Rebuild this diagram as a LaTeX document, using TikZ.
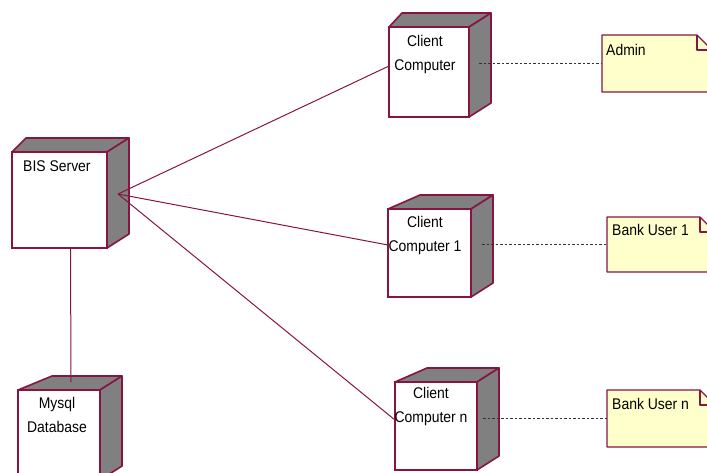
\documentclass[tikz,border=0pt]{standalone}
\usepackage{fontspec}
\setmainfont{Liberation Sans}[FakeStretch=0.9]
\usetikzlibrary{calc}

\definecolor{edge}{RGB}{135,20,65}
\definecolor{shade}{RGB}{128,128,128}
\definecolor{notefill}{RGB}{255,255,204}

\tikzset{
  box/.style={draw=edge, line width=1.6pt, fill=white, inner sep=0pt, outer sep=0pt},
  face/.style={fill=shade, draw=edge, line width=1.6pt, line join=round},
  boxtext/.style={font=\fontsize{15.5}{24}\selectfont, inner sep=0pt, align=center, anchor=base},
  notetext/.style={font=\fontsize{15.5}{17}\selectfont, inner sep=0pt, anchor=base west},
  link/.style={draw=edge, line width=1pt},
  trace/.style={draw=black!80, line width=1pt, dash pattern=on 2.5pt off 2pt},
  notebox/.style={inner sep=0pt, outer sep=0pt},
  notepaper/.style={draw=edge, fill=notefill, line width=1.2pt, line join=round},
}

% top and side faces of a deployment node; #2 = offset of the top face's back-left corner
\newcommand\devicefaces[2]{%
  \draw[face] (#1.north west) -- ([shift={(#2,-14)}]#1.north west)
    -- ([shift={(22,-14)}]#1.north east) -- (#1.north east) -- cycle;
  \draw[face] (#1.north east) -- ([shift={(22,-14)}]#1.north east)
    -- ([shift={(22,-14)}]#1.south east) -- (#1.south east) -- cycle;
}

% note sheet with a folded corner
\newcommand\notepaper[1]{%
  \draw[notepaper] (#1.south west) -- (#1.north west) -- ([shift={(-15,0)}]#1.north east)
    -- ([shift={(0,15)}]#1.north east) -- (#1.south east) -- cycle;
  \draw[notepaper, fill=none] ([shift={(-15,0)}]#1.north east)
    -- ([shift={(-15,15)}]#1.north east) -- ([shift={(0,15)}]#1.north east);
}

\begin{document}
\begin{tikzpicture}[x=1pt, y=-1pt]
\useasboundingbox (0,0) rectangle (707,472);
\begin{scope}
\clip (0,0) rectangle (707,472);

% deployment nodes
\node[box, minimum width=95pt, minimum height=96pt] (bis) at (59.5,200) {};
\devicefaces{bis}{14}
\node[box, minimum width=80pt, minimum height=90pt] (cc) at (429,72) {};
\devicefaces{cc}{13}
\node[box, minimum width=83pt, minimum height=88pt] (cc1) at (429.5,253) {};
\devicefaces{cc1}{32}
\node[box, minimum width=82pt, minimum height=88pt] (ccn) at (436,426) {};
\devicefaces{ccn}{32}
\node[box, minimum width=82pt, minimum height=90pt] (db) at (59,435) {};
\devicefaces{db}{34}

% node captions (base anchor sits on the last line)
\node[boxtext, anchor=base west] (bis-t) at (23,171) {BIS Server};
\node[boxtext] (cc-t) at (425,70) {Client\\Computer};
\node[boxtext] (cc1-t) at (425,251) {Client\\Computer 1};
\node[boxtext] (ccn-t) at (431,422) {Client\\Computer n};
\node[boxtext] (db-t) at (57,432) {Mysql\\Database};

% notes
\node[notebox, minimum width=110pt, minimum height=57pt] (admin) at (657,63.5) {};
\notepaper{admin}
\node[notetext] (admin-t) at (606,55) {Admin};
\node[notebox, minimum width=108pt, minimum height=55pt] (bu1) at (661,244.5) {};
\notepaper{bu1}
\node[notetext] (bu1-t) at (612,235) {Bank User 1};
\node[notebox, minimum width=108pt, minimum height=57pt] (bun) at (661,418.5) {};
\notepaper{bun}
\node[notetext] (bun-t) at (612,409) {Bank User n};

% communication paths
\coordinate (hub) at ([shift={(11,-6)}]bis.east);
\coordinate (cc-in) at ([shift={(0,-6)}]cc.west);
\coordinate (cc1-in) at ([shift={(0,-8)}]cc1.west);
\coordinate (ccn-in) at ([shift={(0,-6)}]ccn.west);
\draw[link] (hub) -- (cc-in);
\draw[link] (hub) -- (cc1-in);
\draw[link] (hub) -- (ccn-in);
\coordinate (bis-foot) at ([shift={(11,0)}]bis.south);
\coordinate (db-top) at ([shift={(12,-8)}]db.north);
\draw[link] (bis-foot) -- (db-top);

% note attachments
\coordinate (cc-out) at ($(cc.east |- admin.west)+(10,0)$);
\coordinate (cc1-out) at ($(cc1.east |- bu1.west)+(11,0)$);
\coordinate (ccn-out) at ($(ccn.east |- bun.west)+(6,0)$);
\draw[trace] (cc-out) -- (admin.west);
\draw[trace] (cc1-out) -- (bu1.west);
\draw[trace] (ccn-out) -- (bun.west);
\end{scope}
\end{tikzpicture}
\end{document}
